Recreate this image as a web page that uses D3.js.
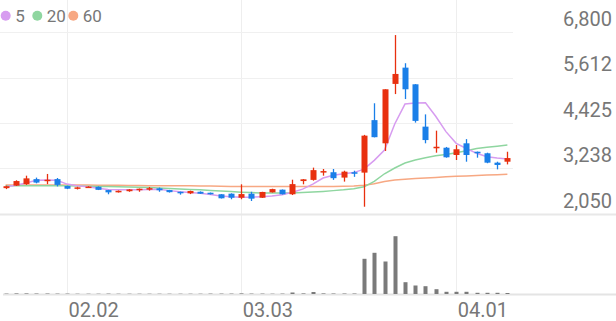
<!DOCTYPE html>
<html>
<head>
<meta charset="utf-8">
<script src="https://cdn.jsdelivr.net/npm/d3@7"></script>
<style>
  body { margin: 0; background: #fff; }
  svg { display: block; font-family: Roboto, "Noto Sans", sans-serif; }
</style>
</head>
<body>
<script>
// trading days
var dates = ["01.23","01.26","01.27","01.28","01.29","01.30",
  "02.02","02.03","02.04","02.05","02.06","02.09","02.10","02.11","02.12","02.13",
  "02.19","02.20","02.23","02.24","02.25","02.26","02.27",
  "03.03","03.04","03.05","03.06","03.09","03.10","03.11","03.12","03.13",
  "03.16","03.17","03.18","03.19","03.20","03.23","03.24","03.25","03.26","03.27",
  "03.30","03.31","04.01","04.02","04.03","04.06","04.07","04.08"];

var opens  = [2725,2790,2830,2960,2920,2960,2780,2710,2740,2760,2675,2620,2645,2680,2690,2720,2675,2630,2590,2630,
  2605,2565,2580,2475,2580,2475,2615,2685,2565,2910,2940,3150,3140,3000,3140,3130,4500,3895,5445,5870,
  5435,4330,3765,3780,3590,3895,3675,3635,3390,3415];
var highs  = [2790,2930,3050,3000,3095,2990,2790,2760,2775,2770,2680,2665,2700,2715,2755,2740,2680,2635,2660,2640,
  2610,2570,2590,2825,2630,2630,2710,2690,2945,2960,3260,3225,3225,3180,3180,4115,4940,5305,6720,5985,
  5440,4650,4225,3800,3850,4005,3680,3650,3415,3675];
var lows   = [2700,2780,2810,2850,2830,2770,2700,2690,2730,2675,2565,2610,2630,2630,2660,2630,2610,2555,2570,2575,
  2560,2455,2435,2435,2390,2470,2610,2560,2545,2825,2920,3050,2940,2895,3020,2240,4050,3695,5180,5050,
  4435,3895,3650,3520,3460,3415,3520,3375,3215,3345];
var closes = [2775,2910,2980,2870,2945,2810,2710,2745,2765,2680,2615,2655,2690,2710,2725,2670,2620,2590,2650,2580,
  2565,2460,2475,2570,2450,2625,2700,2565,2830,2955,3195,3170,2985,3155,3100,4095,4055,5305,5705,5305,
  4480,3980,3805,3530,3740,3590,3635,3390,3330,3510];

var volumes = [40,60,60,50,50,40,40,30,30,30,40,30,30,30,30,30,30,30,30,30,
  40,40,40,60,40,40,30,40,150,60,200,60,50,50,50,3520,4120,3250,5780,1180,
  850,780,480,220,220,220,120,120,120,100];

// moving averages
var ma5  = [2760,2800,2860,2930,2940,2930,2830,2785,2760,2725,2690,2680,2680,2685,2690,2695,2660,2630,2610,2590,
  2560,2520,2500,2486,2490,2503,2520,2550,2620,2700,2830,2990,3060,3100,3130,3220,3450,3720,4400,4920,
  4950,4955,4600,4200,3895,3760,3634,3546,3510,3485];
var ma20 = [2790,2790,2790,2790,2790,2790,2785,2780,2775,2770,2765,2760,2755,2750,2740,2730,2715,2700,2690,2680,
  2665,2650,2635,2620,2610,2600,2595,2595,2600,2610,2625,2640,2660,2680,2710,2760,2900,3100,3250,3380,
  3460,3520,3570,3600,3650,3700,3760,3790,3820,3850];
var ma60 = [2810,2810,2810,2810,2810,2810,2805,2805,2805,2800,2800,2800,2795,2795,2790,2790,2790,2785,2785,2780,
  2780,2775,2770,2770,2765,2765,2765,2765,2765,2765,2770,2770,2770,2775,2780,2800,2840,2900,2940,2960,
  2975,2990,3005,3020,3035,3045,3055,3065,3075,3090];

var priceTicks = [2050,3238,4425,5612,6800];
var dateTicks = ["02.02","03.03","04.01"];
var maNames = ["5","20","60"];
var maColors = ["#d79cf0","#8fd6a0","#f7a883"];

const w = 616, h = 321;
const upColor = "#e8300f", downColor = "#1a7fe8";
const textColor = "#777777";

const svg = d3.select("body").append("svg").attr("width", w).attr("height", h);

const idx = d3.range(dates.length);
const x = d3.scaleBand().domain(idx).range([0.5, 512.5]);
const cx = i => x(i) + x.bandwidth() / 2;
const y = d3.scaleLinear().domain([2050, 6800]).range([214, 32]);
const yv = d3.scaleLinear().domain([0, 7400]).range([294, 220]);

// vertical grid at labelled dates
const tickIdx = dateTicks.map(d => dates.indexOf(d));
svg.append("g").selectAll("line").data(tickIdx).enter().append("line")
   .attr("x1", d => Math.round(cx(d)) + 0.5).attr("x2", d => Math.round(cx(d)) + 0.5)
   .attr("y1", 0).attr("y2", 294)
   .attr("stroke", "#eeeeee");

// horizontal grid
svg.append("g").selectAll("line").data(priceTicks.slice(1)).enter().append("line")
   .attr("x1", 0).attr("x2", 513)
   .attr("y1", d => Math.round(y(d)) + 0.5).attr("y2", d => Math.round(y(d)) + 0.5)
   .attr("stroke", "#f0f0f0");
svg.append("line").attr("x1", 0).attr("x2", w)
   .attr("y1", Math.round(y(2050)) + 0.5).attr("y2", Math.round(y(2050)) + 0.5)
   .attr("stroke", "#e8e8e8").attr("stroke-width", 2);
svg.append("line").attr("x1", 3).attr("x2", w)
   .attr("y1", 294.5).attr("y2", 294.5)
   .attr("stroke", "#e4e4e4").attr("stroke-width", 2);

// moving average lines
[ma60, ma20, ma5].forEach(function(arr, k){
  var line = d3.line().x((d, i) => cx(i)).y(d => y(d));
  svg.append("path").datum(arr)
     .attr("d", line)
     .attr("fill", "none")
     .attr("stroke", maColors[2 - k])
     .attr("stroke-width", 1.5);
});

// candles
const candles = svg.append("g").selectAll("g").data(idx).enter().append("g");
candles.append("line")
   .attr("x1", i => Math.round(cx(i)) + 0.5).attr("x2", i => Math.round(cx(i)) + 0.5)
   .attr("y1", i => y(highs[i])).attr("y2", i => y(lows[i]))
   .attr("stroke", i => closes[i] >= opens[i] ? upColor : downColor)
   .attr("stroke-width", 1.3);
candles.append("rect")
   .attr("x", i => Math.round(cx(i)) - 2.5)
   .attr("width", 6)
   .attr("y", i => y(Math.max(opens[i], closes[i])))
   .attr("height", i => Math.max(1.5, Math.abs(y(opens[i]) - y(closes[i]))))
   .attr("fill", i => closes[i] >= opens[i] ? upColor : downColor);

// volume
svg.append("g").selectAll("rect").data(idx).enter().append("rect")
   .attr("x", i => Math.round(cx(i)) - 1.5)
   .attr("width", 4)
   .attr("y", i => yv(volumes[i]))
   .attr("height", i => yv(0) - yv(volumes[i]))
   .attr("fill", "#7a7a7a");

// price axis on the right
svg.append("g")
   .attr("transform", "translate(612,0)")
   .call(d3.axisRight(y).tickValues(priceTicks).tickFormat(d3.format(",")).tickSize(0))
   .call(g => g.select(".domain").remove())
   .call(g => g.selectAll("text")
      .attr("x", 0).attr("dy", -7)
      .attr("text-anchor", "end")
      .attr("fill", textColor)
      .style("font-size", "20px")
      .style("font-family", "Roboto"));

// date axis
svg.append("g")
   .attr("transform", "translate(0,300)")
   .call(d3.axisBottom(x).tickValues(tickIdx).tickFormat(i => dates[i]).tickSize(0))
   .call(g => g.select(".domain").remove())
   .call(g => g.selectAll("text")
      .attr("x", 1.5).attr("y", 0).attr("dy", 16.5)
      .attr("text-anchor", "start")
      .attr("fill", textColor)
      .style("font-size", "20px")
      .style("font-family", "Roboto"));

// legend
var legX = [5.7, 37.3, 73.3];
const leg = svg.append("g").selectAll("g").data(maNames).enter().append("g");
leg.append("circle")
   .attr("cx", (d, i) => legX[i]).attr("cy", 15.7).attr("r", 5)
   .attr("fill", (d, i) => maColors[i]);
leg.append("text")
   .attr("x", (d, i) => legX[i] + 9.5).attr("y", 21.8)
   .attr("fill", textColor)
   .style("font-size", "17px")
   .text(d => d);
</script>
</body>
</html>
